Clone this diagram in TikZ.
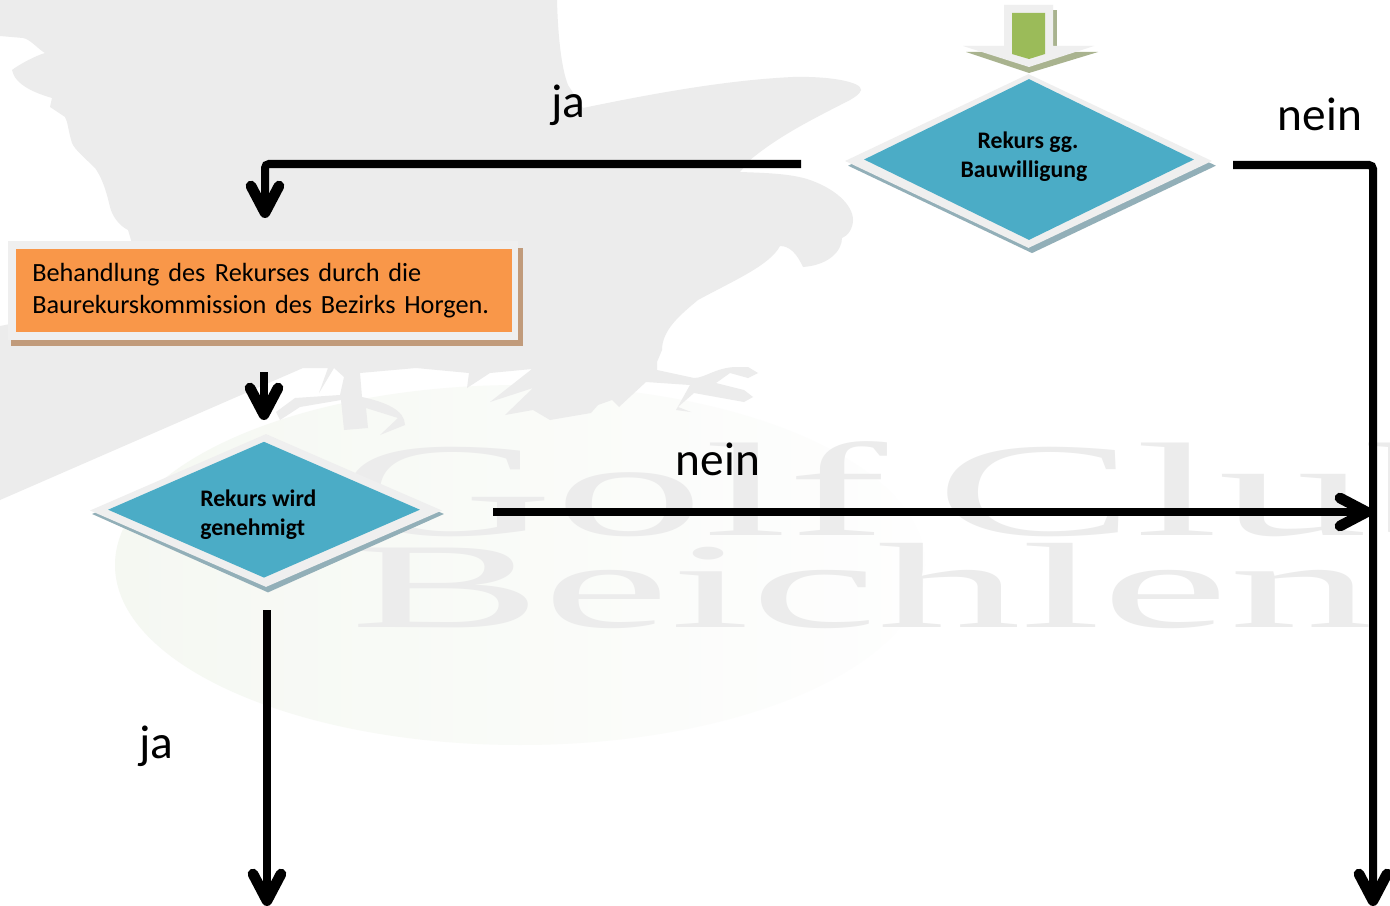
\documentclass[tikz,border=0pt]{standalone}
\usepackage{fontspec}
\setmainfont{Carlito}
\newfontfamily\wmfont{Liberation Serif}
\usetikzlibrary{arrows.meta,shapes.geometric}
\definecolor{wmgray}{HTML}{ECECEC}
\definecolor{ballleft}{HTML}{F5F8F2}
\definecolor{ballright}{HTML}{FEFEFE}
\definecolor{palelight}{HTML}{EFEFEF}
\definecolor{teal}{HTML}{4BACC6}
\definecolor{tealshadow}{HTML}{92AFB8}
\definecolor{orangefill}{HTML}{F99749}
\definecolor{orangeshadow}{HTML}{C19B7B}
\definecolor{greenfill}{HTML}{9BBB59}
\definecolor{greenshadow}{HTML}{A9B38F}
\tikzset{
  flow/.style={line width=6pt,draw=black,rounded corners=3pt,
    -{Straight Barb[length=20pt,width=21pt,round,line width=8pt]}},
  plainlabel/.style={font=\fontsize{35.5pt}{40pt}\selectfont,inner sep=0pt,text=black},
  difftext/.style={font=\fontsize{17.8pt}{21pt}\selectfont\bfseries,inner sep=0pt,text=black},
  dia/.style={diamond,inner sep=0pt,draw=none},
  wm/.style={text=wmgray,anchor=base west,inner sep=0pt}
}
\begin{document}
\begin{tikzpicture}[x=.75pt,y=-.75pt]
\useasboundingbox (0,0) rectangle (1390,906);
\begin{scope}
\clip (0,0) rectangle (1390,906);
\fill[white] (0,0) rectangle (1390,906);
% watermark: golf ball
\shade[left color=ballleft,right color=ballright] (520,565) ellipse [x radius=405,y radius=180];
% watermark: eagle
\fill[wmgray] (0,0) -- (557,0)
  .. controls (558,40) and (562,70) .. (568,85)
  -- (583,108) .. controls (660,92) and (730,80) .. (793,77)
  .. controls (830,76) and (862,82) .. (861,90)
  .. controls (860,94) and (855,97) .. (850,100)
  .. controls (815,118) and (780,135) .. (750,160)
  -- (740,172) .. controls (770,173) and (790,174) .. (807,179)
  .. controls (835,188) and (853,205) .. (853,220)
  .. controls (853,228) and (848,236) .. (842,238)
  .. controls (842,250) and (830,265) .. (803,267)
  .. controls (797,254) and (790,246) .. (780,246)
  .. controls (770,265) and (735,280) .. (698,300)
  .. controls (680,315) and (662,330) .. (662,350)
  -- (657,362) -- (657,370) -- (694,378)
  .. controls (705,378) and (715,368) .. (735,367)
  -- (748,367) -- (758,373) -- (748,378) -- (730,373) -- (716,383)
  -- (744,390) -- (753,397) -- (744,402) -- (694,393) -- (678,407)
  -- (691,412) -- (676,410) -- (690,385) -- (646,382) -- (619,407)
  -- (612,400) -- (598,405) -- (591,413) -- (550,420) -- (533,410)
  -- (505,415) -- (533,388) -- (490,402) -- (532,369) -- (490,373)
  -- (467,388) -- (469,373) -- (416,368) -- (360,373) -- (362,397)
  .. controls (385,402) and (405,410) .. (405,425)
  -- (380,435) -- (398,418) -- (366,408) -- (368,428) -- (344,430)
  -- (341,400) -- (300,407) -- (280,420) -- (276,412) -- (295,398)
  -- (340,395) -- (344,377) -- (334,368) -- (319,393) -- (328,368)
  -- (303,368) -- (0,500) -- (0,326) -- (30,320) -- (131,250) -- (131,240)
  -- (128,230) .. controls (118,225) and (112,215) .. (110,207)
  .. controls (105,185) and (100,175) .. (95,168)
  .. controls (85,158) and (75,150) .. (72,143)
  .. controls (68,130) and (68,122) .. (65,117)
  -- (50,107) -- (52,98) .. controls (35,93) and (15,85) .. (12,70)
  .. controls (20,64) and (35,56) .. (45,53)
  .. controls (38,49) and (30,39) .. (23,38)
  -- (0,36) -- cycle;
% watermark: lettering
\node[wm,xscale=2.25,font=\wmfont\fontsize{100pt}{100pt}\selectfont] (wmgolf) at (337,535) {Golf\hspace{-9pt} Club};
\node[wm,xscale=2.37,font=\wmfont\fontsize{91pt}{91pt}\selectfont] (wmbeich) at (350,627) {Beichlen};
\end{scope}
% entry block arrow
\fill[greenshadow] (1053,10) -- (1057,10) -- (1057,46) -- (1053,46) -- cycle;
\fill[greenshadow] (966,52) -- (1098,52) -- (1029,73) -- cycle;
\fill[palelight] (1004,5) -- (1053,5) -- (1053,46) -- (1094,46) -- (1029,67) -- (963,46) -- (1004,46) -- cycle;
\fill[greenfill] (1012,13) -- (1045,13) -- (1045,54) -- (1029,59) -- (1012,54) -- cycle;
% upper decision
\node[dia,fill=tealshadow,minimum width=368*.75pt,minimum height=175*.75pt] (d1s) at (1032,165.7) {};
\node[dia,fill=palelight,minimum width=367*.75pt,minimum height=174*.75pt] (d1l) at (1028.5,161) {};
\node[dia,fill=teal,minimum width=330*.75pt,minimum height=161*.75pt] (d1) at (1029,159.5) {};
\node[difftext] (d1a) at (1028,142) {Rekurs gg.};
\node[difftext] (d1b) at (1024,171) {Bauwilligung};
% box
\fill[orangeshadow] (11,248) rectangle (523,346);
\fill[palelight] (8,241) rectangle (518,340);
\node[fill=orangefill,minimum width=496*.75pt,minimum height=83*.75pt,inner ysep=0pt,
      inner xsep=12pt,align=left,anchor=north west,text width=348pt,
      font=\fontsize{19.7pt}{24pt}\selectfont] (box) at (16,249)
  {\raisebox{3pt}{Behandlung des\hspace{.03em} Rekurses durch die}\\\raisebox{3pt}{Baurekurskommission des Bezirks Horgen.}};
% lower decision
\node[dia,fill=tealshadow,minimum width=352*.75pt,minimum height=157*.75pt] (d2s) at (268,514) {};
\node[dia,fill=palelight,minimum width=352*.75pt,minimum height=153*.75pt] (d2l) at (266,510.5) {};
\node[dia,fill=teal,minimum width=312*.75pt,minimum height=136*.75pt] (d2) at (264,509.7) {};
\node[difftext,anchor=west] (d2a) at (200,498) {Rekurs wird};
\node[difftext,anchor=west] (d2b) at (200,529) {genehmigt};
% connector ends
\coordinate (c1s) at (801,164);
\coordinate (c1c) at (265,164);
\coordinate (c1e) at (265,218);
\coordinate (c2s) at (264,372);
\coordinate (c2e) at (264,420);
\coordinate (c3s) at (493,512);
\coordinate (c3e) at (1372,512);
\coordinate (c4s) at (1233,165);
\coordinate (c4c) at (1373,165);
\coordinate (c4e) at (1373,906);
\coordinate (c5s) at (267,610);
\coordinate (c5e) at (267,906);
\draw[flow] (c1s) -- (c1c) -- (c1e);
\draw[flow] (c2s) -- (c2e);
\draw[flow] (c3s) -- (c3e);
\draw[flow] (c4s) -- (c4c) -- (c4e);
\draw[flow] (c5s) -- (c5e);
% labels
\node[plainlabel] (l1) at (568,105) {ja};
\node[plainlabel] (l2) at (1320,114) {nein};
\node[plainlabel] (l3) at (718,459) {nein};
\node[plainlabel] (l4) at (156,746) {ja};
\end{tikzpicture}
\end{document}
